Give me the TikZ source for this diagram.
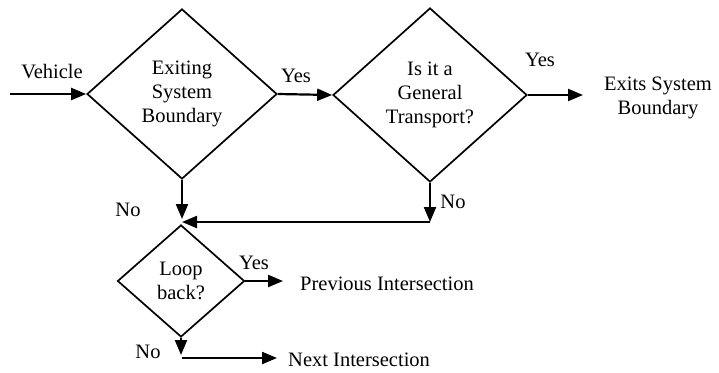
\documentclass[tikz,border=0pt]{standalone}
\usepackage{fontspec}
\setmainfont{Liberation Serif}
\usetikzlibrary{shapes.geometric,arrows.meta}
\begin{document}
\begin{tikzpicture}[x=1pt,y=-1pt,
  every node/.style={font=\fontsize{20.5}{24}\selectfont},
  decision/.style={draw,shape=diamond,line width=1.7pt,inner sep=0pt,align=center},
  lbl/.style={inner sep=0pt},
  flow/.style={line width=2.2pt,-{Triangle[length=15pt,width=12pt]}}]
\useasboundingbox (0,0) rectangle (719,372);
\node[decision,minimum width=190pt,minimum height=170pt] (d1) at (182,94) {Exiting\\System\\Boundary};
\node[decision,minimum width=194pt,minimum height=174pt] (d2) at (430,95) {Is it a\\General\\Transport?};
\node[decision,minimum width=127pt,minimum height=112pt] (d3) at (181,281) {Loop\\back?};
\coordinate (vin) at (10,94);
\coordinate (exitend) at (583,95);
\coordinate (d2no) at (430,222);
\coordinate (merge) at (182,222);
\coordinate (d1no) at (182,219);
\coordinate (prevend) at (283,281);
\coordinate (d3no) at (181,355);
\coordinate (nextstart) at (182,358);
\coordinate (nextend) at (277,358);
\node[lbl] (vehicle) at (52,72) {Vehicle};
\node[lbl] (yes1) at (296,76) {Yes};
\node[lbl] (yes2) at (540,60) {Yes};
\node[lbl] (yes3) at (254,263) {Yes};
\node[lbl] (no1) at (128,210) {No};
\node[lbl] (no2) at (453,202) {No};
\node[lbl] (no3) at (148,352) {No};
\node[lbl,align=center] (exits) at (658,98) {Exits System\\Boundary};
\node[lbl,anchor=west] (prev) at (300,284) {Previous Intersection};
\node[lbl,anchor=west] (next) at (288,360) {Next Intersection};
\draw[flow] (vin) -- (d1.west);
\draw[flow] (d1.east) -- (d2.west);
\draw[flow] (d2.east) -- (exitend);
\draw[flow] (d2.south) -- (d2no);
\draw[flow] (d2no) -- (merge);
\draw[flow] (d1.south) -- (d1no);
\draw[flow] (d3.east) -- (prevend);
\draw[flow] (d3.south) -- (d3no);
\draw[flow] (nextstart) -- (nextend);
\end{tikzpicture}
\end{document}
